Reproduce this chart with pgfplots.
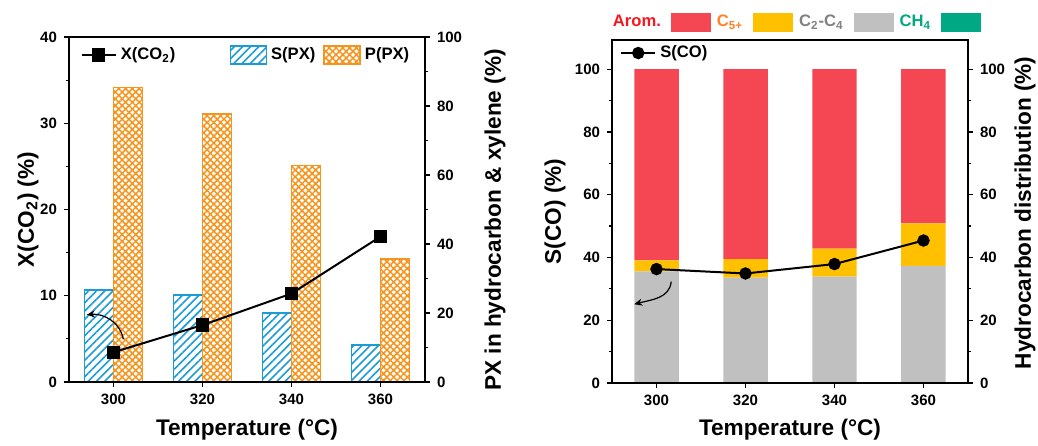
\documentclass[border=0pt]{standalone}
\usepackage{fontspec}
\setmainfont{Liberation Sans}
\usepackage{pgfplots}
\pgfplotsset{compat=1.18}
\usetikzlibrary{patterns.meta,arrows.meta}

\definecolor{pxblue}{RGB}{28,156,214}
\definecolor{pxorange}{RGB}{247,148,30}
\definecolor{arom}{RGB}{244,70,83}
\definecolor{cfive}{RGB}{255,192,0}
\definecolor{ctwo}{RGB}{192,192,192}
\definecolor{methane}{RGB}{0,168,132}
\definecolor{aromtxt}{RGB}{250,20,30}
\definecolor{cfivetxt}{RGB}{255,130,40}
\definecolor{ctwotxt}{RGB}{128,128,128}
\definecolor{methtxt}{RGB}{0,168,132}

\newcommand\tickfont{\fontsize{7.5}{9}\selectfont\bfseries}
\newcommand\labfont{\fontsize{11.3}{13}\selectfont\bfseries}
\newcommand\legfont{\fontsize{8.3}{10}\selectfont\bfseries}

\pgfplotsset{
  panel/.style={
    scale only axis, width=178pt, anchor=south west,
    xmin=290, xmax=370,
    tick align=outside,
    major tick length=2.5pt, minor tick length=1.5pt,
    tick style={line width=0.6pt, black},
    axis line style={line width=0.6pt},
    ticklabel style={font=\tickfont},
    /pgf/number format/assume math mode=true,
    label style={font=\labfont},
    legend style={font=\legfont, draw=none, fill=none},
    legend cell align=left,
    clip=false,
  },
  boxlegend/.style={
    legend image code/.code={\draw[##1] (0pt,-4.6pt) rectangle (18pt,4.6pt);}
  },
}

\begin{document}
\begin{tikzpicture}
\useasboundingbox (0,0) rectangle (519pt,222.5pt);

% ---------- left panel: PX selectivity / productivity (right axis) ----------
\begin{axis}[panel, at={(34.5pt,31.5pt)}, height=172.5pt,
  ymin=0, ymax=100, ytick={0,20,...,100}, minor y tick num=1,
  axis y line*=right, axis x line=none,
  ybar, bar width=6.5,
  ylabel={PX in hydrocarbon \& xylene (\%)},
  ylabel style={at={(axis description cs:1.197,0.47)}, anchor=center},
  boxlegend, legend columns=2,
  legend style={at={(axis description cs:0.985,0.948)}, anchor=east,
    /tikz/every even column/.append style={column sep=2pt}},
]
\addplot[bar shift=-3.25, draw=pxblue, line width=0.8pt,
  pattern={Lines[angle=45,distance=2.9pt,line width=0.8pt]}, pattern color=pxblue]
  coordinates {(300,26.7) (320,25.2) (340,20.0) (360,10.7)};
\addlegendentry{S(PX)}
\addplot[bar shift=3.25, draw=pxorange, line width=0.8pt,
  pattern={Hatch[angle=45,distance=2.4pt,line width=0.75pt]}, pattern color=pxorange]
  coordinates {(300,85.4) (320,77.7) (340,62.7) (360,35.6)};
\addlegendentry{P(PX)}
\end{axis}

% ---------- left panel: CO2 conversion (left axis) ----------
\begin{axis}[panel, at={(34.5pt,31.5pt)}, height=172.5pt,
  ymin=0, ymax=40, ytick={0,10,...,40}, minor y tick num=1,
  xtick={300,320,340,360}, xtick pos=bottom, ytick pos=left,
  xlabel={Temperature (°C)}, ylabel={X(CO\textsubscript{2}) (\%)},
  xlabel style={at={(axis description cs:0.5,-0.139)}, anchor=center},
  ylabel style={at={(axis description cs:-0.115,0.5)}, anchor=center},
  legend style={at={(axis description cs:0.015,0.948)}, anchor=west},
]
\addplot[black, line width=1pt, mark=square*, mark size=2.8pt]
  coordinates {(300,3.45) (320,6.6) (340,10.25) (360,16.86)};
\addlegendentry{X(CO\textsubscript{2})}
\draw[-{Stealth[length=4pt,width=3.5pt]}, line width=0.6pt]
  (axis cs:302.2,4.95) to[out=100,in=5] (axis cs:294,7.8);
\end{axis}

% ---------- right panel: hydrocarbon distribution (right axis) ----------
\begin{axis}[panel, at={(306pt,31pt)}, height=171.5pt,
  ymin=0, ymax=109.3, ytick={0,20,...,100}, minor y tick num=1,
  axis y line*=right, axis x line=none,
  ybar stacked, bar width=10,
  ylabel={Hydrocarbon distribution (\%)},
  ylabel style={at={(axis description cs:1.16,0.496)}, anchor=center},
  legend image code/.code={\fill[#1] (0pt,-4.8pt) rectangle (20pt,4.8pt);},
  legend plot pos=right, legend columns=4, reverse legend,
  legend style={at={(axis description cs:0.514,1.051)}, anchor=center,
    /tikz/every odd column/.append style={column sep=3pt},
    /tikz/every even column/.append style={column sep=1pt}},
]
\addplot[fill=methane, draw=none] coordinates {(300,0.1) (320,0.3) (340,0.3) (360,0.3)};
\addlegendentry{\textcolor{methtxt}{CH\textsubscript{4}}}
\addplot[fill=ctwo, draw=none] coordinates {(300,35.5) (320,33.3) (340,33.6) (360,37.0)};
\addlegendentry{\textcolor{ctwotxt}{C\textsubscript{2}-C\textsubscript{4}}}
\addplot[fill=cfive, draw=none] coordinates {(300,3.5) (320,5.9) (340,8.9) (360,13.6)};
\addlegendentry{\textcolor{cfivetxt}{C\textsubscript{5+}}}
\addplot[fill=arom, draw=none] coordinates {(300,60.9) (320,60.5) (340,57.2) (360,49.1)};
\addlegendentry{\textcolor{aromtxt}{Arom.}}
\end{axis}

% ---------- right panel: CO selectivity (left axis) ----------
\begin{axis}[panel, at={(306pt,31pt)}, height=171.5pt,
  ymin=0, ymax=109.3, ytick={0,20,...,100}, minor y tick num=1,
  xtick={300,320,340,360}, xtick pos=bottom, ytick pos=left,
  xlabel={Temperature (°C)}, ylabel={S(CO) (\%)},
  xlabel style={at={(axis description cs:0.5,-0.137)}, anchor=center},
  ylabel style={at={(axis description cs:-0.16,0.5)}, anchor=center},
  legend style={at={(axis description cs:0.005,0.962)}, anchor=west},
]
\addplot[black, line width=1pt, mark=*, mark size=2.6pt]
  coordinates {(300,36.3) (320,34.9) (340,37.9) (360,45.4)};
\addlegendentry{S(CO)}
\draw[-{Stealth[length=4pt,width=3.5pt]}, line width=0.6pt]
  (axis cs:303.3,32.3) to[out=-95,in=15] (axis cs:295.0,25.1);
\end{axis}
\end{tikzpicture}
\end{document}
